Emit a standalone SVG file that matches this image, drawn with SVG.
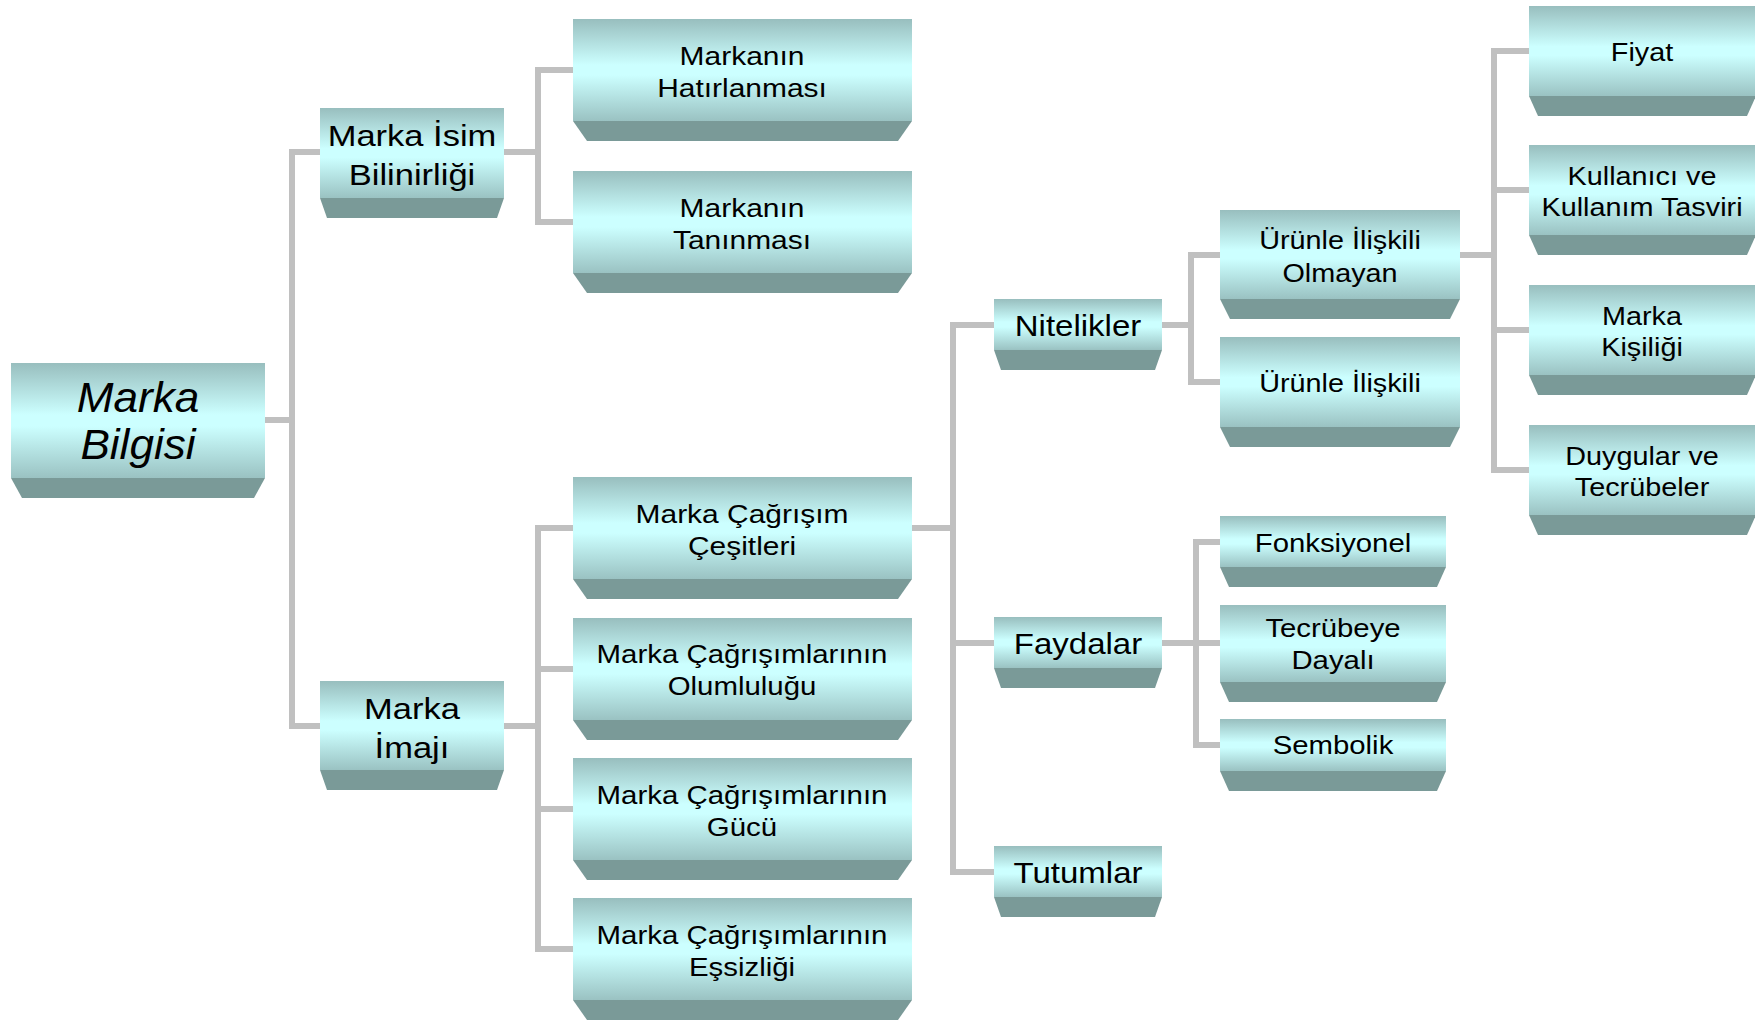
<svg xmlns="http://www.w3.org/2000/svg" width="1755" height="1022" viewBox="0 0 1755 1022">
  <defs>
    <linearGradient id="face" x1="0" y1="0" x2="0" y2="1">
      <stop offset="0" stop-color="#98bebe"/>
      <stop offset="0.45" stop-color="#ccffff"/>
      <stop offset="0.55" stop-color="#ccffff"/>
      <stop offset="1" stop-color="#9ac2c2"/>
    </linearGradient>
    <style>
      .face { fill: url(#face); }
      .base { fill: #7a9a98; }
      .link { fill: none; stroke: #c0c0c0; stroke-width: 6; stroke-linecap: square; }
      text { font-family: "Liberation Sans", Arial, sans-serif; fill: #000; text-anchor: middle; }
      .t0 { font-size: 42px; font-style: italic; }
      .t1 { font-size: 29.5px; }
      .t2 { font-size: 26.5px; }
      .t3 { font-size: 30px; }
      .t4 { font-size: 25.5px; }
    </style>
  </defs>
  <rect width="1755" height="1022" fill="#ffffff"/>

  <!-- connectors -->
  <g id="connectors" class="link">
    <path d="M265 420 H292 M292 152 V726 M292 152 H320 M292 726 H320"/>
    <path d="M504 152 H538 M538 70 V222 M538 70 H573 M538 222 H573"/>
    <path d="M504 726 H538 M538 528 V949 M538 528 H573 M538 669 H573 M538 809 H573 M538 949 H573"/>
    <path d="M912 528 H953 M953 325 V872 M953 325 H994 M953 643 H994 M953 872 H994"/>
    <path d="M1162 325 H1191 M1191 255 V382 M1191 255 H1220 M1191 382 H1220"/>
    <path d="M1162 643 H1196 M1196 542 V745 M1196 542 H1220 M1196 643 H1220 M1196 745 H1220"/>
    <path d="M1460 255 H1494 M1494 51 V470 M1494 51 H1529 M1494 190 H1529 M1494 330 H1529 M1494 470 H1529"/>
  </g>

  <!-- root -->
  <g id="marka-bilgisi">
    <rect class="face" x="11" y="363" width="254" height="115"/>
    <polygon class="base" points="11,478 265,478 254,498 22,498"/>
    <text class="t0" transform="translate(138,0) scale(1.05,1)"><tspan x="0" y="412">Marka</tspan><tspan x="0" y="459">Bilgisi</tspan></text>
  </g>

  <!-- level 1 -->
  <g id="marka-isim-bilinirligi">
    <rect class="face" x="320" y="108" width="184" height="90"/>
    <polygon class="base" points="320,198 504,198 497,218 327,218"/>
    <text class="t1" transform="translate(412,0) scale(1.17,1)"><tspan x="0" y="146">Marka İsim</tspan><tspan x="0" y="185">Bilinirliği</tspan></text>
  </g>
  <g id="marka-imaji">
    <rect class="face" x="320" y="681" width="184" height="89"/>
    <polygon class="base" points="320,770 504,770 497,790 327,790"/>
    <text class="t1" transform="translate(412,0) scale(1.17,1)"><tspan x="0" y="719">Marka</tspan><tspan x="0" y="758">İmajı</tspan></text>
  </g>

  <!-- level 2 -->
  <g id="markanin-hatirlanmasi">
    <rect class="face" x="573" y="19" width="339" height="102"/>
    <polygon class="base" points="573,121 912,121 898,141 587,141"/>
    <text class="t2" transform="translate(742,0) scale(1.13,1)"><tspan x="0" y="65">Markanın</tspan><tspan x="0" y="97">Hatırlanması</tspan></text>
  </g>
  <g id="markanin-taninmasi">
    <rect class="face" x="573" y="171" width="339" height="102"/>
    <polygon class="base" points="573,273 912,273 898,293 587,293"/>
    <text class="t2" transform="translate(742,0) scale(1.13,1)"><tspan x="0" y="217">Markanın</tspan><tspan x="0" y="249">Tanınması</tspan></text>
  </g>
  <g id="marka-cagrisim-cesitleri">
    <rect class="face" x="573" y="477" width="339" height="102"/>
    <polygon class="base" points="573,579 912,579 898,599 587,599"/>
    <text class="t2" transform="translate(742,0) scale(1.13,1)"><tspan x="0" y="523">Marka Çağrışım</tspan><tspan x="0" y="555">Çeşitleri</tspan></text>
  </g>
  <g id="cagrisim-olumlulugu">
    <rect class="face" x="573" y="618" width="339" height="102"/>
    <polygon class="base" points="573,720 912,720 898,740 587,740"/>
    <text class="t2" transform="translate(742,0) scale(1.11,1)"><tspan x="0" y="663">Marka Çağrışımlarının</tspan><tspan x="0" y="695">Olumluluğu</tspan></text>
  </g>
  <g id="cagrisim-gucu">
    <rect class="face" x="573" y="758" width="339" height="102"/>
    <polygon class="base" points="573,860 912,860 898,880 587,880"/>
    <text class="t2" transform="translate(742,0) scale(1.11,1)"><tspan x="0" y="804">Marka Çağrışımlarının</tspan><tspan x="0" y="836">Gücü</tspan></text>
  </g>
  <g id="cagrisim-essizligi">
    <rect class="face" x="573" y="898" width="339" height="102"/>
    <polygon class="base" points="573,1000 912,1000 898,1020 587,1020"/>
    <text class="t2" transform="translate(742,0) scale(1.11,1)"><tspan x="0" y="944">Marka Çağrışımlarının</tspan><tspan x="0" y="976">Eşsizliği</tspan></text>
  </g>

  <!-- level 3 -->
  <g id="nitelikler">
    <rect class="face" x="994" y="299" width="168" height="51"/>
    <polygon class="base" points="994,350 1162,350 1155,370 1001,370"/>
    <text class="t3" transform="translate(1078,0) scale(1.1,1)"><tspan x="0" y="336">Nitelikler</tspan></text>
  </g>
  <g id="faydalar">
    <rect class="face" x="994" y="617" width="168" height="51"/>
    <polygon class="base" points="994,668 1162,668 1155,688 1001,688"/>
    <text class="t3" transform="translate(1078,0) scale(1.1,1)"><tspan x="0" y="654">Faydalar</tspan></text>
  </g>
  <g id="tutumlar">
    <rect class="face" x="994" y="846" width="168" height="51"/>
    <polygon class="base" points="994,897 1162,897 1155,917 1001,917"/>
    <text class="t3" transform="translate(1078,0) scale(1.1,1)"><tspan x="0" y="883">Tutumlar</tspan></text>
  </g>

  <!-- level 4: attributes -->
  <g id="urunle-iliskili-olmayan">
    <rect class="face" x="1220" y="210" width="240" height="89"/>
    <polygon class="base" points="1220,299 1460,299 1450,319 1230,319"/>
    <text class="t4" transform="translate(1340,0) scale(1.13,1)"><tspan x="0" y="249">Ürünle İlişkili</tspan><tspan x="0" y="282">Olmayan</tspan></text>
  </g>
  <g id="urunle-iliskili">
    <rect class="face" x="1220" y="337" width="240" height="90"/>
    <polygon class="base" points="1220,427 1460,427 1450,447 1230,447"/>
    <text class="t4" transform="translate(1340,0) scale(1.13,1)"><tspan x="0" y="392">Ürünle İlişkili</tspan></text>
  </g>

  <!-- level 4: benefits -->
  <g id="fonksiyonel">
    <rect class="face" x="1220" y="516" width="226" height="51"/>
    <polygon class="base" points="1220,567 1446,567 1437,587 1229,587"/>
    <text class="t4" transform="translate(1333,0) scale(1.15,1)"><tspan x="0" y="552">Fonksiyonel</tspan></text>
  </g>
  <g id="tecrubeye-dayali">
    <rect class="face" x="1220" y="605" width="226" height="77"/>
    <polygon class="base" points="1220,682 1446,682 1437,702 1229,702"/>
    <text class="t4" transform="translate(1333,0) scale(1.15,1)"><tspan x="0" y="637">Tecrübeye</tspan><tspan x="0" y="669">Dayalı</tspan></text>
  </g>
  <g id="sembolik">
    <rect class="face" x="1220" y="719" width="226" height="52"/>
    <polygon class="base" points="1220,771 1446,771 1437,791 1229,791"/>
    <text class="t4" transform="translate(1333,0) scale(1.15,1)"><tspan x="0" y="754">Sembolik</tspan></text>
  </g>

  <!-- level 5 -->
  <g id="fiyat">
    <rect class="face" x="1529" y="6" width="227" height="90"/>
    <polygon class="base" points="1529,96 1756,96 1747,116 1538,116"/>
    <text class="t4" transform="translate(1642,0) scale(1.13,1)"><tspan x="0" y="61">Fiyat</tspan></text>
  </g>
  <g id="kullanici-ve-kullanim-tasviri">
    <rect class="face" x="1529" y="145" width="227" height="90"/>
    <polygon class="base" points="1529,235 1756,235 1747,255 1538,255"/>
    <text class="t4" transform="translate(1642,0) scale(1.13,1)"><tspan x="0" y="185">Kullanıcı ve</tspan><tspan x="0" y="216">Kullanım Tasviri</tspan></text>
  </g>
  <g id="marka-kisiligi">
    <rect class="face" x="1529" y="285" width="227" height="90"/>
    <polygon class="base" points="1529,375 1756,375 1747,395 1538,395"/>
    <text class="t4" transform="translate(1642,0) scale(1.13,1)"><tspan x="0" y="325">Marka</tspan><tspan x="0" y="356">Kişiliği</tspan></text>
  </g>
  <g id="duygular-ve-tecrubeler">
    <rect class="face" x="1529" y="425" width="227" height="90"/>
    <polygon class="base" points="1529,515 1756,515 1747,535 1538,535"/>
    <text class="t4" transform="translate(1642,0) scale(1.13,1)"><tspan x="0" y="465">Duygular ve</tspan><tspan x="0" y="496">Tecrübeler</tspan></text>
  </g>
</svg>
